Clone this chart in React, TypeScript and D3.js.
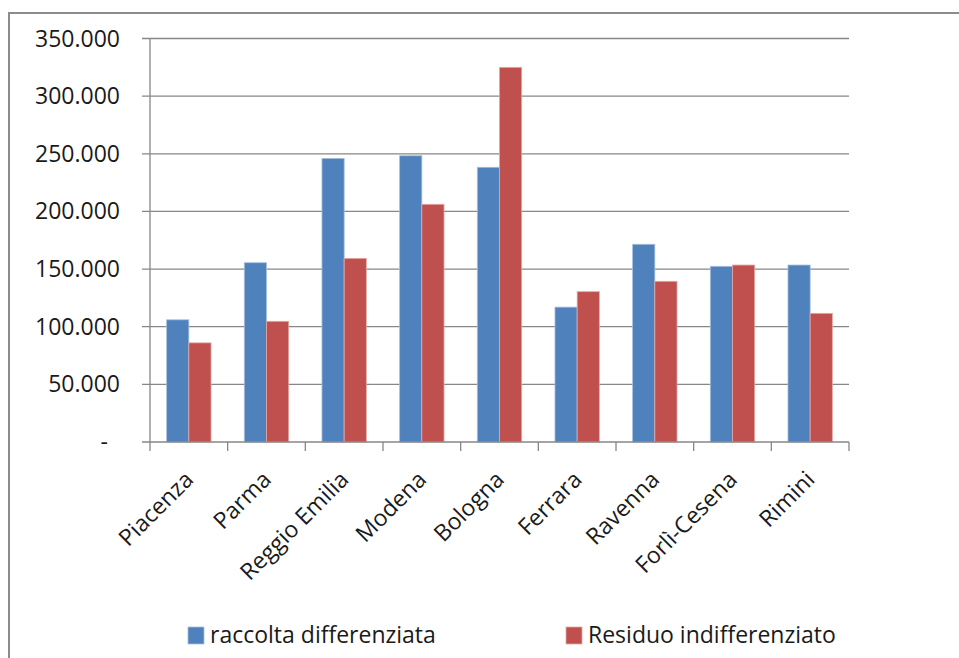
import React, { useEffect, useRef } from 'react';
import * as d3 from 'd3';

const categories = ['Piacenza', 'Parma', 'Reggio Emilia', 'Modena', 'Bologna', 'Ferrara', 'Ravenna', 'Forlì-Cesena', 'Rimini'];
const seriesNames = ['raccolta differenziata', 'Residuo indifferenziato'];
const differenziata = [106000, 155500, 246000, 248300, 238300, 117000, 171500, 152400, 153500];
const indifferenziato = [86000, 104700, 159300, 206200, 325000, 130400, 139400, 153500, 111600];
const yTicks = [0, 50000, 100000, 150000, 200000, 250000, 300000, 350000];

const colors = ['#4F81BD', '#C0504D'];
const edgeColors = ['#a7bfde', '#e3a9a7'];

const App: React.FC = () => {
  const svgRef = useRef<SVGSVGElement>(null);
  const width = 959;
  const height = 658;

  useEffect(() => {
    if (!svgRef.current) return;
    const svg = d3.select(svgRef.current);
    svg.selectAll('*').remove();

    const font = "'Open Sans', 'Noto Sans', sans-serif";
    const left = 150, right = 849, top = 38.5, bottom = 442;

    // outer frame
    svg.append('rect')
      .attr('x', 9).attr('y', 13)
      .attr('width', 960).attr('height', 660)
      .attr('fill', 'white')
      .attr('stroke', '#8c8c8c')
      .attr('stroke-width', 2);

    const x = d3.scaleBand<string>().domain(categories).range([left, right]).paddingInner(0).paddingOuter(0);
    const xInner = d3.scaleBand<string>().domain(seriesNames).range([0, x.bandwidth()]).paddingInner(0).paddingOuter(0.75);
    const y = d3.scaleLinear().domain([0, 350000]).range([bottom, top]);

    const locale = d3.formatLocale({ decimal: ',', thousands: '.', grouping: [3], currency: ['', ''] });
    const fmt = locale.format(',');

    // gridlines
    svg.append('g').selectAll('line')
      .data(yTicks.filter(d => d > 0))
      .enter().append('line')
      .attr('x1', left - 8).attr('x2', right)
      .attr('y1', d => y(d)).attr('y2', d => y(d))
      .attr('stroke', '#878787').attr('stroke-width', 1.3);

    // y labels
    svg.append('g').selectAll('text')
      .data(yTicks)
      .enter().append('text')
      .attr('x', d => d === 0 ? 108 : 120)
      .attr('y', d => y(d))
      .attr('dy', '0.35em')
      .attr('text-anchor', 'end')
      .style('font-family', font)
      .style('font-size', '23px')
      .attr('fill', '#1a1a1a')
      .text(d => d === 0 ? '-' : fmt(d));

    // bars
    const series = [differenziata, indifferenziato];
    series.forEach((values, si) => {
      svg.append('g').selectAll('rect')
        .data(values)
        .enter().append('rect')
        .attr('x', (d, i) => (x(categories[i]) || 0) + (xInner(seriesNames[si]) || 0))
        .attr('y', d => y(d))
        .attr('width', xInner.bandwidth())
        .attr('height', d => bottom - y(d))
        .attr('fill', colors[si])
        .attr('stroke', edgeColors[si])
        .attr('stroke-width', 0.8);
    });

    // axes
    svg.append('line')
      .attr('x1', left).attr('x2', left)
      .attr('y1', top).attr('y2', bottom)
      .attr('stroke', '#878787').attr('stroke-width', 1.3);
    svg.append('line')
      .attr('x1', left - 8).attr('x2', right)
      .attr('y1', bottom).attr('y2', bottom)
      .attr('stroke', '#878787').attr('stroke-width', 1.3);

    // x ticks at category boundaries
    const boundaries = categories.map(c => x(c) || 0).concat([right]);
    svg.append('g').selectAll('line')
      .data(boundaries)
      .enter().append('line')
      .attr('x1', d => d).attr('x2', d => d)
      .attr('y1', bottom).attr('y2', bottom + 9)
      .attr('stroke', '#878787').attr('stroke-width', 1.3);

    // x labels
    svg.append('g').selectAll('text')
      .data(categories)
      .enter().append('text')
      .attr('transform', d => `translate(${(x(d) || 0) + x.bandwidth() / 2 + 6},${bottom + 39}) rotate(-45)`)
      .attr('text-anchor', 'end')
      .style('font-family', font)
      .style('font-size', '23px')
      .attr('fill', '#1a1a1a')
      .text(d => d);

    // legend
    const legendX = [188, 566];
    const legend = svg.append('g');
    seriesNames.forEach((name, i) => {
      legend.append('rect')
        .attr('x', legendX[i]).attr('y', 627)
        .attr('width', 16).attr('height', 17)
        .attr('fill', colors[i])
        .attr('stroke', edgeColors[i]).attr('stroke-width', 0.8);
      legend.append('text')
        .attr('x', legendX[i] + 22).attr('y', 643)
        .style('font-family', font)
        .style('font-size', '23px')
        .attr('fill', '#1a1a1a')
        .text(name);
    });
  }, []);

  return (
    <svg ref={svgRef} width={width} height={height} style={{ position: 'absolute', left: 0, top: 0, display: 'block' }}></svg>
  );
};

export default App;
